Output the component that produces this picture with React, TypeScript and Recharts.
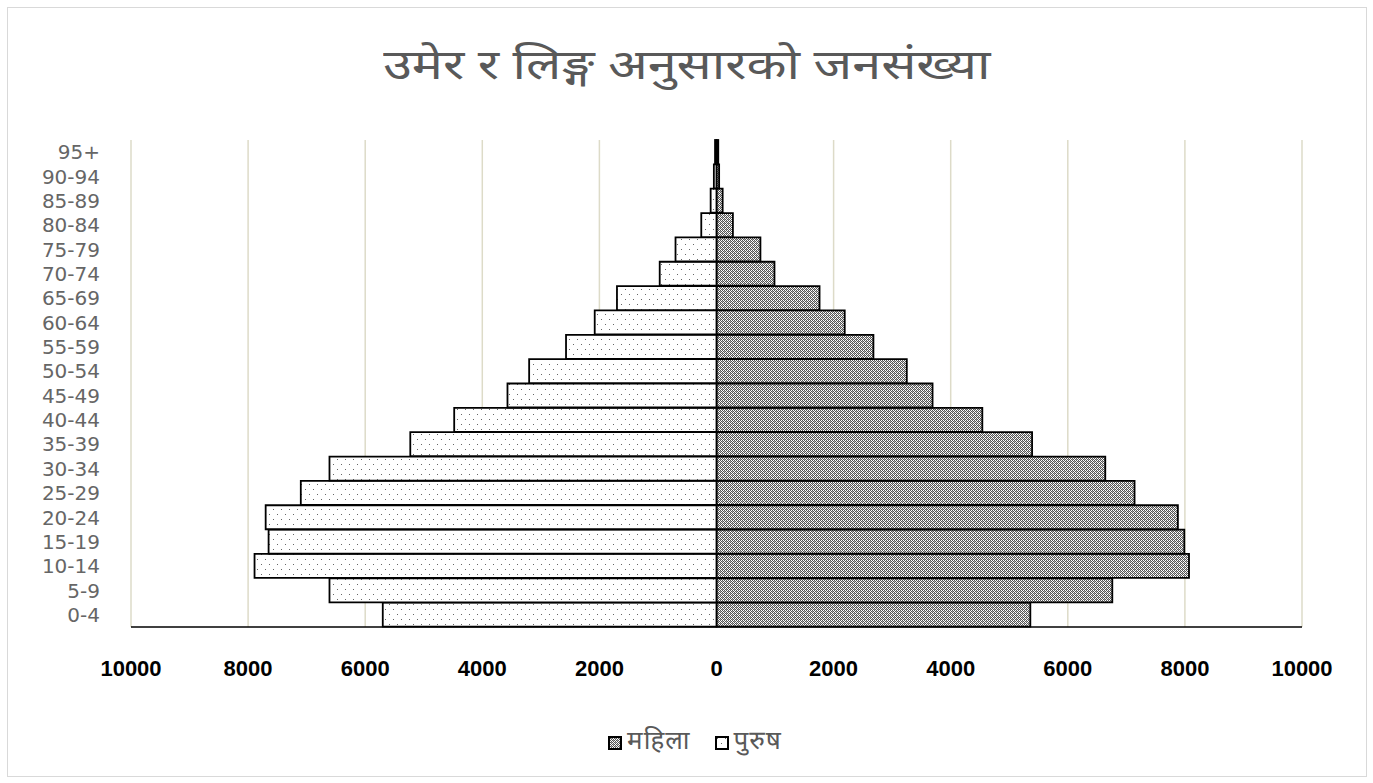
import React from 'react';
import { BarChart, Bar, XAxis, YAxis, CartesianGrid } from 'recharts';

const ageGroups = ['0-4', '5-9', '10-14', '15-19', '20-24', '25-29', '30-34', '35-39', '40-44', '45-49', '50-54', '55-59', '60-64', '65-69', '70-74', '75-79', '80-84', '85-89', '90-94', '95+'];
const femaleValues = [5360, 6760, 8070, 7990, 7880, 7140, 6640, 5390, 4540, 3690, 3250, 2680, 2190, 1760, 990, 750, 280, 105, 45, 30];
const maleValues = [5700, 6610, 7890, 7650, 7700, 7100, 6610, 5230, 4480, 3570, 3200, 2570, 2080, 1700, 970, 700, 260, 100, 45, 25];
const xTicks = [-10000, -8000, -6000, -4000, -2000, 0, 2000, 4000, 6000, 8000, 10000];

const titleText = 'उमेर र लिङ्ग अनुसारको जनसंख्या';
const femaleLabel = 'महिला';
const maleLabel = 'पुरुष';

const data = ageGroups.map((age, i) => ({ age, female: femaleValues[i], male: -maleValues[i] }));

const devFont = '"Noto Sans Devanagari", "Lohit Devanagari", Mangal, "Noto Sans", "DejaVu Sans", sans-serif';

const Patterns = ({ suffix }: { suffix: string }) => (
  <defs>
    <pattern id={'malePat' + suffix} width={8} height={10} patternUnits="userSpaceOnUse">
      <rect width={8} height={10} fill="#fff" />
      <rect x={2} y={2} width={1} height={1} fill="#666" />
      <rect x={6} y={7} width={1} height={1} fill="#666" />
    </pattern>
    <pattern id={'femalePat' + suffix} width={4} height={4} patternUnits="userSpaceOnUse">
      <rect width={4} height={4} fill="#fff" />
      <rect x={0} y={0} width={1} height={1} fill="#555" />
      <rect x={2} y={0} width={1} height={1} fill="#555" />
      <rect x={1} y={1} width={1} height={1} fill="#555" />
      <rect x={3} y={1} width={1} height={1} fill="#555" />
      <rect x={0} y={2} width={1} height={1} fill="#555" />
      <rect x={2} y={2} width={1} height={1} fill="#555" />
      <rect x={1} y={3} width={1} height={1} fill="#555" />
      <rect x={3} y={3} width={1} height={1} fill="#555" />
      <rect x={1} y={0} width={1} height={1} fill="#aaa" />
      <rect x={3} y={2} width={1} height={1} fill="#aaa" />
    </pattern>
  </defs>
);

const Swatch = ({ fill }: { fill: string }) => (
  <svg width={14} height={14} style={{ display: 'block' }}>
    <Patterns suffix="L" />
    <rect x={1} y={1} width={12} height={12} fill={fill} stroke="#000" strokeWidth={2} />
  </svg>
);

export default function App() {
  return (
    <div style={{ position: 'absolute', left: 0, top: 0, width: 1373, height: 783, background: '#fff' }}>
      <div
        style={{
          position: 'absolute',
          left: 7,
          top: 7,
          width: 1360,
          height: 770,
          border: '1px solid #d9d9d9',
          boxSizing: 'border-box',
        }}
      />
      <div
        style={{
          position: 'absolute',
          left: 7,
          top: 40,
          width: 1360,
          textAlign: 'center',
          fontFamily: devFont,
          color: '#595959',
        }}
      >
        <span
          style={{
            display: 'inline-block',
            fontSize: 42,
            lineHeight: '58px',
            transform: 'scaleX(1.24)',
            transformOrigin: 'center',
          }}
        >
          {titleText}
        </span>
      </div>
      <div style={{ position: 'absolute', left: 7, top: 7 }}>
        <BarChart
          width={1359}
          height={769}
          data={data}
          layout="vertical"
          stackOffset="sign"
          barCategoryGap={0}
          margin={{ top: 133, right: 64, bottom: 89, left: 0 }}
        >
          <Patterns suffix="C" />
          <CartesianGrid horizontal={false} vertical stroke="#dddbc8" strokeWidth={1.5} />
          <XAxis
            type="number"
            domain={[-10000, 10000]}
            ticks={xTicks}
            interval={0}
            tickFormatter={(v: number) => String(Math.abs(v))}
            tickSize={0}
            tickMargin={33}
            height={60}
            axisLine={{ stroke: '#000', strokeWidth: 1.5 }}
            tick={{ fill: '#000', fontSize: 22, fontWeight: 700, fontFamily: '"Liberation Sans", Arial, sans-serif' }}
          />
          <YAxis
            type="category"
            dataKey="age"
            reversed
            interval={0}
            width={124}
            tickSize={0}
            tickMargin={31}
            axisLine={false}
            tickLine={false}
            tick={{ fill: '#666', fontSize: 20, fontFamily: '"DejaVu Sans", sans-serif' }}
          />
          <Bar dataKey="female" stackId="pop" fill="url(#femalePatC)" stroke="#000" strokeWidth={1.8} isAnimationActive={false} />
          <Bar dataKey="male" stackId="pop" fill="url(#malePatC)" stroke="#000" strokeWidth={1.8} isAnimationActive={false} />
        </BarChart>
      </div>
      <div
        style={{
          position: 'absolute',
          left: 7,
          top: 726,
          width: 1376,
          display: 'flex',
          justifyContent: 'center',
          alignItems: 'center',
          fontFamily: devFont,
          fontSize: 26,
          color: '#595959',
        }}
      >
        <span style={{ display: 'flex', alignItems: 'center' }}>
          <Swatch fill="url(#femalePatL)" />
          <span style={{ marginLeft: 5, letterSpacing: 1 }}>{femaleLabel}</span>
        </span>
        <span style={{ display: 'flex', alignItems: 'center', marginLeft: 24 }}>
          <Swatch fill="url(#malePatL)" />
          <span style={{ marginLeft: 5, letterSpacing: 1 }}>{maleLabel}</span>
        </span>
      </div>
    </div>
  );
}
